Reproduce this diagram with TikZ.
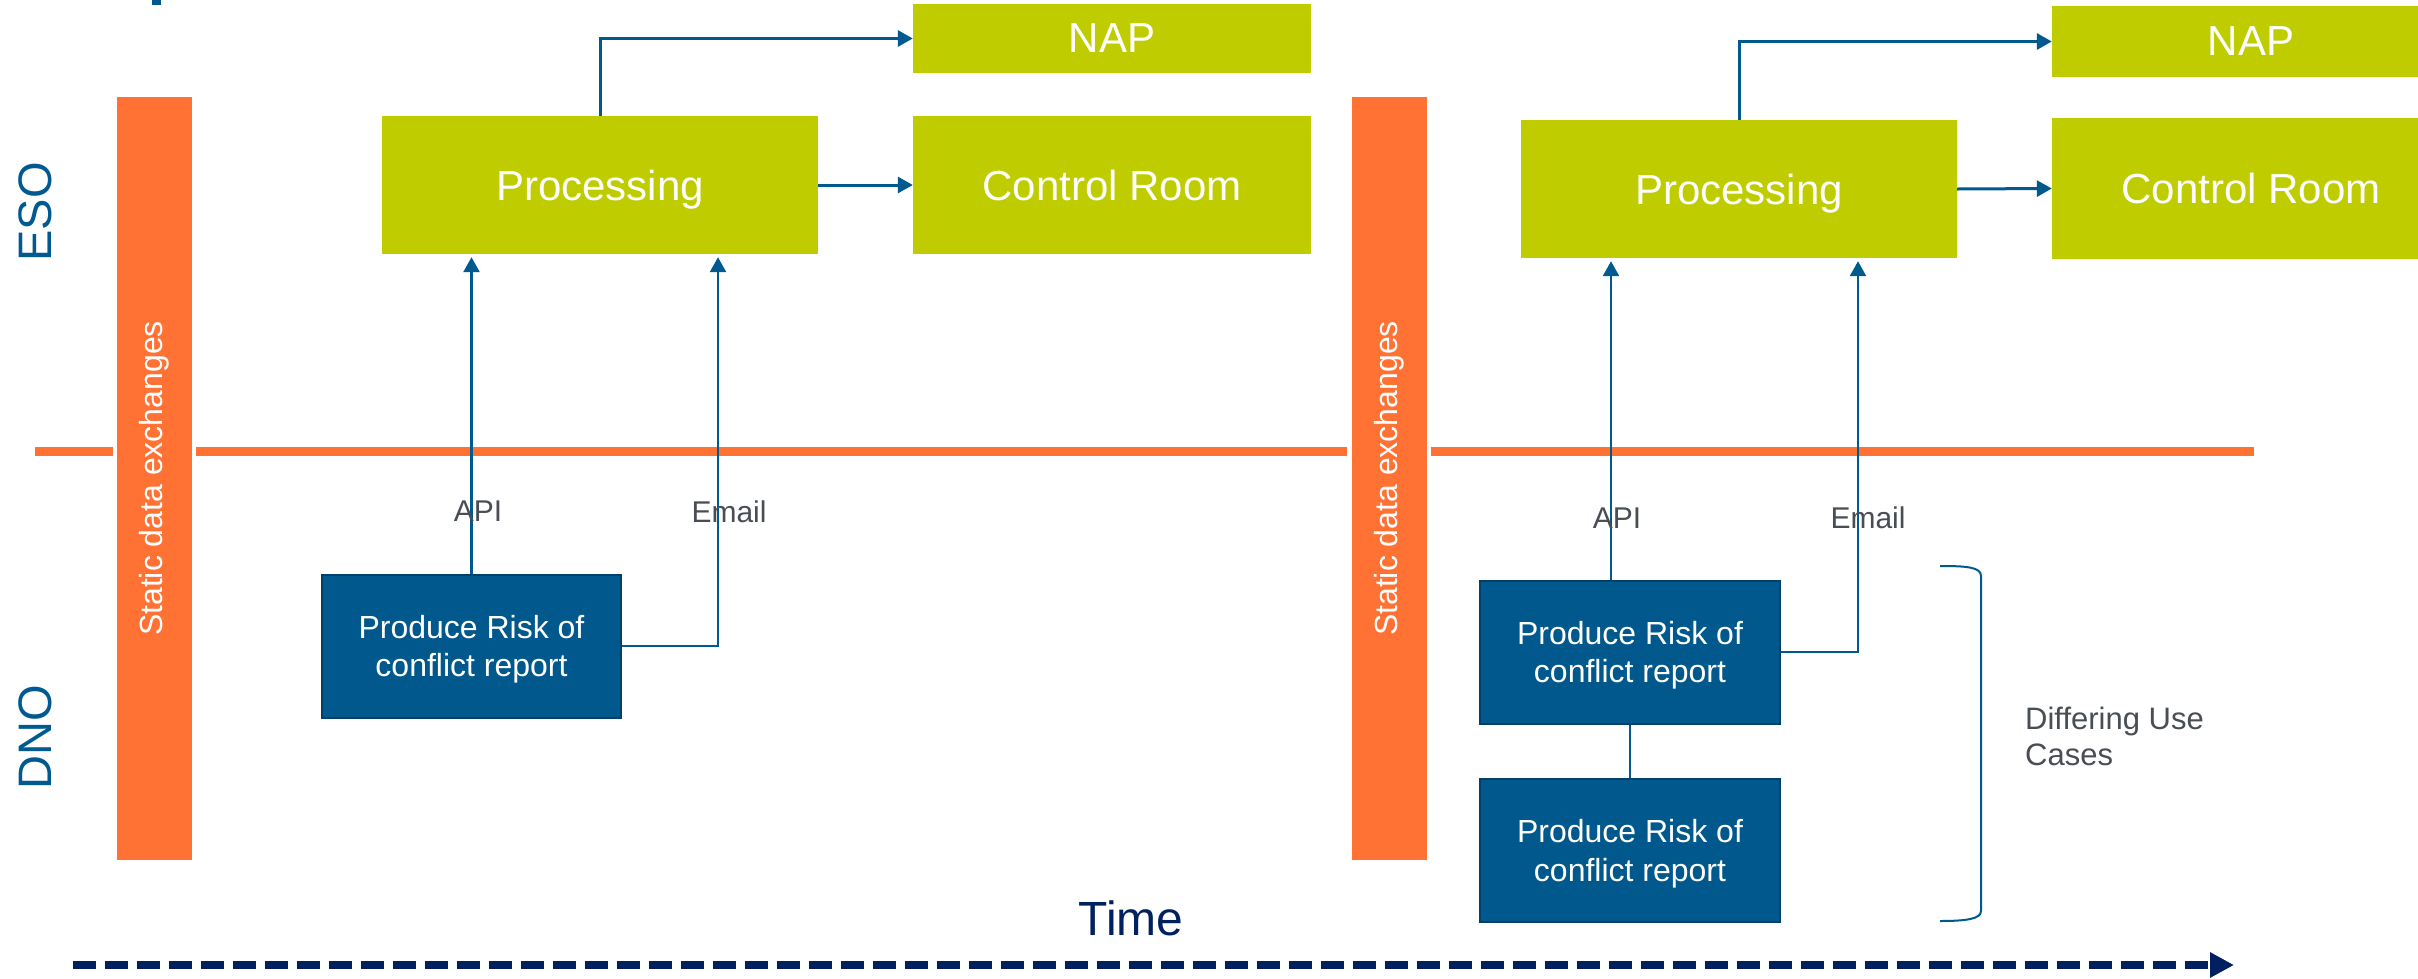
\documentclass[tikz,border=0pt]{standalone}
\usepackage{fontspec}
\setmainfont{Liberation Sans}
\usetikzlibrary{arrows.meta,calc}
\definecolor{esogreen}{RGB}{191,205,0}
\definecolor{barorange}{RGB}{255,114,51}
\definecolor{boxblue}{RGB}{0,88,140}
\definecolor{boxedge}{RGB}{0,64,105}
\definecolor{lineblue}{RGB}{0,90,143}
\definecolor{labelblue}{RGB}{0,90,145}
\definecolor{timenavy}{RGB}{0,32,96}
\definecolor{greytext}{RGB}{72,78,84}
\tikzset{
  greenbox/.style={fill=esogreen, text=white, inner sep=0pt, text depth=0pt, font=\fontsize{42}{50}\selectfont},
  bluebox/.style={fill=boxblue, draw=boxedge, line width=2pt, text=white, align=center, inner sep=0pt,
    text depth=0pt, minimum width=299pt, minimum height=143pt, font=\fontsize{32}{38.4}\selectfont},
  orangebar/.style={fill=barorange, text=white, rotate=90, inner sep=0pt,
    minimum width=763pt, minimum height=75pt, font=\fontsize{32}{38}\selectfont},
  sidelabel/.style={text=labelblue, rotate=90, inner sep=0pt, font=\fontsize{47}{56}\selectfont},
  arr/.style={draw=lineblue, line width=3pt, -{Triangle[length=15pt,width=16pt]}},
  uparr/.style={draw=lineblue, line width=2.5pt, -{Triangle[length=15pt,width=16pt]}, shorten >=3pt},
  plainlink/.style={draw=lineblue, line width=1.5pt},
  lbl/.style={text=greytext, inner sep=0pt, font=\fontsize{30}{36}\selectfont},
  orangeline/.style={draw=barorange, line width=9pt},
  timearrow/.style={draw=timenavy, line width=8pt, dash pattern=on 23pt off 9pt,
    -{Triangle[length=24pt,width=24pt]}},
  bracket/.style={draw=lineblue, line width=2pt}
}
\begin{document}
\begin{tikzpicture}[x=1pt,y=-1pt]
\clip (0,0) rectangle (2418,978);
\useasboundingbox (0,0) rectangle (2418,978);
\fill[white] (0,0) rectangle (2418,978);

% cut-off title fragment
\fill[labelblue] (152,0) rectangle (161,5);

% swimlane separator
\draw[orangeline] (35,451) -- (113,451);
\draw[orangeline] (196,451) -- (1347,451);
\draw[orangeline] (1431,451) -- (2254,451);

% lane labels
\node[sidelabel] (eso) at (35,212) {ESO};
\node[sidelabel] (dno) at (35,737) {DNO};

% static data exchange bars
\node[orangebar] (bar1) at (154.5,478.5) {Static data exchanges};
\node[orangebar] (bar2) at (1389,478.5) {Static data exchanges};

% ESO boxes, first phase
\node[greenbox, minimum width=436pt, minimum height=138pt] (proc1) at (600,185) {Processing};
\node[greenbox, minimum width=398pt, minimum height=69pt] (nap1) at (1112,38.5) {NAP};
\node[greenbox, minimum width=398pt, minimum height=138pt] (cr1) at (1112,185) {Control Room};

% ESO boxes, second phase
\node[greenbox, minimum width=436pt, minimum height=138pt] (proc2) at (1739,189) {Processing};
\node[greenbox, minimum width=398pt, minimum height=71pt] (nap2) at (2251,41.5) {NAP};
\node[greenbox, minimum width=398pt, minimum height=141pt] (cr2) at (2251,188.5) {Control Room};

% DNO boxes
\node[bluebox] (prod1) at (471.5,646) {Produce Risk of\\conflict report};
\node[bluebox, minimum width=300pt] (prod2a) at (1630,652) {Produce Risk of\\conflict report};
\node[bluebox, minimum width=300pt] (prod2b) at (1630,850.5) {Produce Risk of\\conflict report};

% connectors first phase
\draw[arr] (proc1.north) |- (nap1.west);
\draw[arr] (proc1.east) -- (cr1.west);
\draw[uparr] (prod1.north) -- (prod1.north |- proc1.south);
\draw[uparr] (prod1.east) -| ([xshift=118pt]proc1.south);

% connectors second phase
\draw[arr] (proc2.north) |- (nap2.west);
\draw[arr] (proc2.east) -- (cr2.west);
\draw[uparr] ([xshift=-19pt]prod2a.north) -- ([xshift=-19pt]prod2a.north |- proc2.south);
\draw[uparr] (prod2a.east) -| ([xshift=119pt]proc2.south);
\draw[plainlink] (prod2a.south) -- (prod2b.north);

% channel labels
\node[lbl] (api1) at (478,511) {API};
\node[lbl] (email1) at (729,512) {Email};
\node[lbl] (api2) at (1617,518) {API};
\node[lbl] (email2) at (1868,518) {Email};

% bracket and use case label
\draw[bracket] (1940,566) .. controls (1966,566) and (1981,567) .. (1981,576)
  -- (1981,911) .. controls (1981,919) and (1966,921) .. (1940,921);
\node[lbl, anchor=west, align=left, text depth=0pt, font=\fontsize{31}{36}\selectfont] (diff) at (2025,736) {Differing Use\\Cases};

% time axis
\node[text=timenavy, inner sep=0pt, font=\fontsize{48}{56}\selectfont] (time) at (1131,918) {Time};
\coordinate (t0) at (73,965);
\coordinate (t1) at (2234,965);
\draw[timearrow] (t0) -- (t1);
\end{tikzpicture}
\end{document}
